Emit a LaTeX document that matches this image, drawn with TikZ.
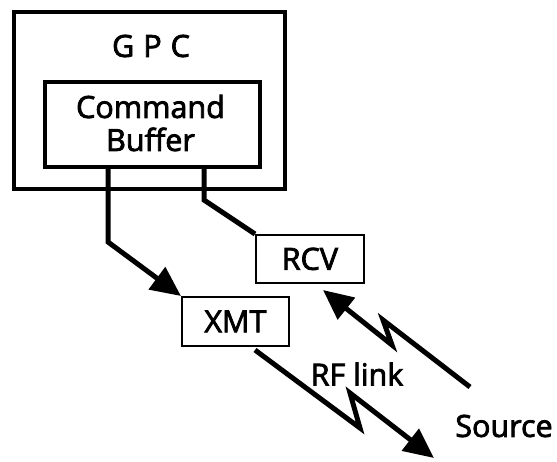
\documentclass[tikz,border=0pt]{standalone}
\usepackage{fontspec}
\setmainfont{Open Sans}
\newfontfamily\lblfont{Open Sans}[FakeBold=2.6]
\usetikzlibrary{arrows.meta}
\begin{document}
\begin{tikzpicture}[x=1pt,y=-1pt,
  bigbox/.style={draw, line width=4pt, anchor=north west, inner sep=0pt},
  smallbox/.style={draw, line width=1.8pt, anchor=north west, inner sep=0pt},
  lbl/.style={font=\lblfont\fontsize{30.5}{33}\selectfont, inner sep=0pt},
  wire/.style={line width=5pt, line join=miter},
  tip/.style={-{Triangle[length=30pt,width=27pt]}}]
\useasboundingbox (0,0) rectangle (557,461);
% boxes
\node[bigbox, minimum width=271pt, minimum height=177pt] (gpc) at (12,10) {};
\node[lbl] (gpclbl) at (151,46) {G\hspace{9pt}P\hspace{9pt}C};
\node[bigbox, minimum width=215pt, minimum height=85pt] (buf) at (43,80) {};
\node[lbl, align=center] (buflbl) at (150.5,123) {Command\\Buffer};
\node[smallbox, minimum width=108pt, minimum height=48pt] (rcv) at (255,234) {};
\node[lbl] (rcvlbl) at (rcv.center) {RCV};
\node[smallbox, minimum width=107pt, minimum height=49pt] (xmt) at (181,296) {};
\node[lbl] (xmtlbl) at (xmt.center) {XMT};
\node[lbl] (rf) at (357,374) {RF link};
\node[lbl] (src) at (504,426) {Source};
% connector coordinates
\coordinate (l1) at (108,242);
\coordinate (r1) at (204,200);
\coordinate (s1) at (470,387);
\coordinate (z1) at (383,320);
\coordinate (z2) at (392,345);
\coordinate (t1) at (323,290);
\coordinate (x1) at (255,350);
\coordinate (z3) at (360,428);
\coordinate (z4) at (350,393);
\coordinate (t2) at (434,458);
% connectors
\draw[wire, tip] (buf.south -| l1) -- (l1) -- (xmt.north west);
\draw[wire] (buf.south -| r1) -- (r1) -- (rcv.north west);
\draw[wire, tip] (s1) -- (z1) -- (z2) -- (t1);
\draw[wire, tip] (x1) -- (z3) -- (z4) -- (t2);
\end{tikzpicture}
\end{document}
